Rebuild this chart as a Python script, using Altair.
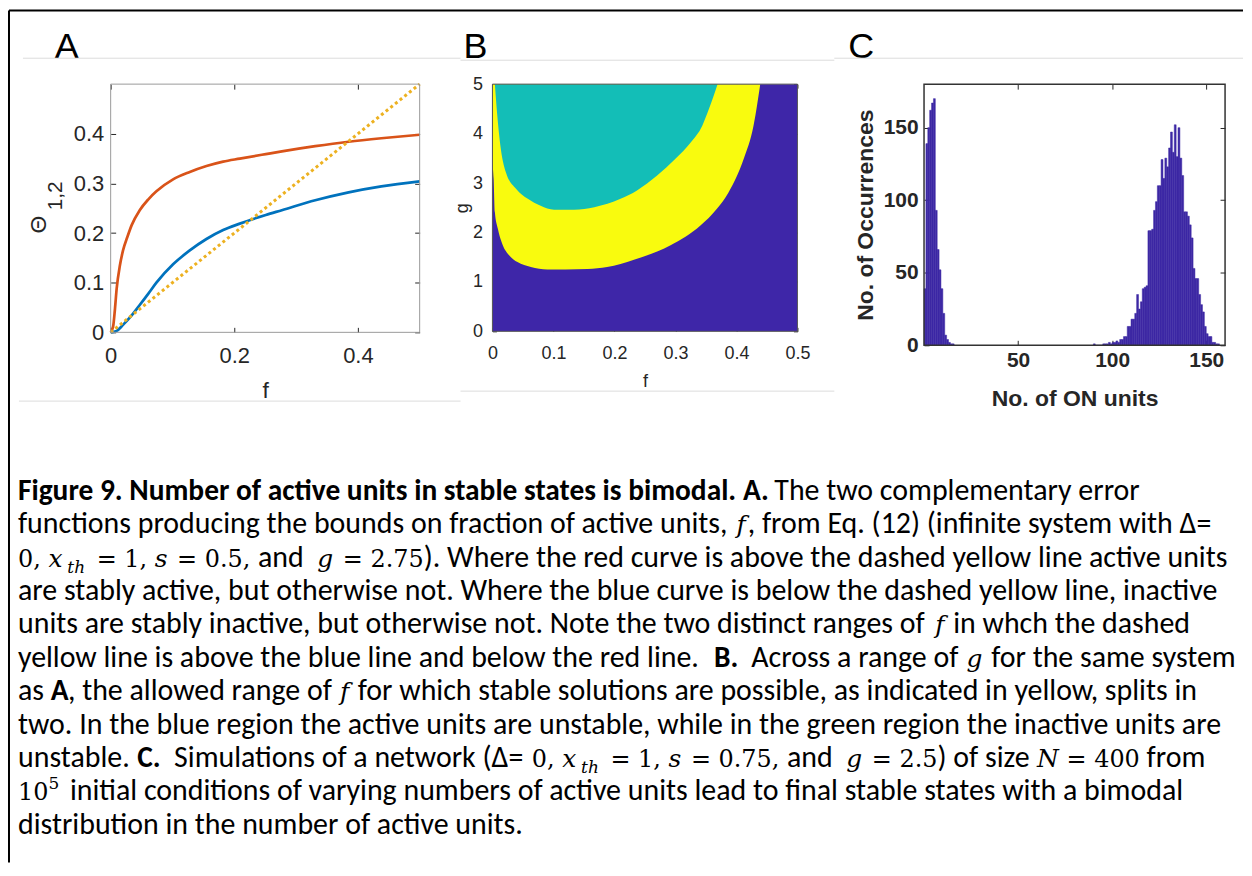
import altair as alt
import pandas as pd

# ---------------- Panel A data ----------------
red_f = [0.0, 0.004, 0.007, 0.0097, 0.015, 0.020, 0.027, 0.034, 0.047, 0.061, 0.074, 0.101,
         0.128, 0.155, 0.182, 0.209, 0.251, 0.277, 0.331, 0.385, 0.438, 0.5]
red_theta = [0.0, 0.012, 0.048, 0.088, 0.135, 0.165, 0.192, 0.216, 0.246, 0.268, 0.284, 0.308,
             0.323, 0.335, 0.344, 0.350, 0.359, 0.3645, 0.375, 0.384, 0.391, 0.398]
blue_f = [0.0, 0.0097, 0.020, 0.034, 0.047, 0.061, 0.074, 0.101, 0.128, 0.155, 0.182, 0.209,
          0.251, 0.277, 0.331, 0.385, 0.438, 0.5]
blue_theta = [0.0, 0.003, 0.015, 0.034, 0.055, 0.078, 0.100, 0.137, 0.165, 0.188, 0.206, 0.219,
              0.2365, 0.246, 0.266, 0.282, 0.294, 0.304]
diag_f = [0.0, 0.5]
diag_theta = [0.0, 0.5]
a_x_ticks = [0, 0.2, 0.4]
a_y_ticks = [0, 0.1, 0.2, 0.3, 0.4]

# ---------------- Panel B data ----------------
yellow_f = [0.0, 0.002, 0.004, 0.009, 0.017, 0.028, 0.041, 0.063, 0.090, 0.120, 0.156, 0.188,
            0.232, 0.292, 0.341, 0.368, 0.387, 0.412, 0.428, 0.439]
yellow_g = [3.40, 3.08, 2.41, 2.07, 1.74, 1.53, 1.40, 1.30, 1.25, 1.25, 1.26, 1.30,
            1.45, 1.74, 2.14, 2.48, 2.81, 3.49, 4.16, 5.00]
teal_f = [0.004, 0.0075, 0.013, 0.022, 0.039, 0.058, 0.079, 0.101, 0.134, 0.167, 0.210, 0.237,
          0.270, 0.300, 0.325, 0.344, 0.355, 0.369]
teal_g = [5.00, 4.43, 3.76, 3.22, 2.88, 2.68, 2.54, 2.46, 2.46, 2.51, 2.68, 2.85,
          3.15, 3.49, 3.82, 4.16, 4.50, 5.00]
b_f_range = [0.0, 0.5]
b_g_range = [0.0, 5.0]
b_x_ticks = [0, 0.1, 0.2, 0.3, 0.4, 0.5]
b_y_ticks = [0, 1, 2, 3, 4, 5]

# ---------------- Panel C data ----------------
low_bins = list(range(0, 16))
low_counts = [39, 139, 150, 162, 167, 170, 93, 66, 52, 39, 22, 7, 4, 2, 1, 1]
high_bins = list(range(90, 157))
high_counts = [1, 0, 0, 0, 0, 1, 1, 1, 2, 1,
               2, 2, 3, 2, 4, 4, 6, 6, 13, 13,
               18, 18, 22, 35, 25, 30, 39, 40, 41, 79,
               79, 80, 93, 99, 110, 110, 128, 115, 129, 123,
               136, 147, 133, 152, 130, 150, 129, 117, 92, 92,
               89, 83, 74, 53, 46, 46, 35, 28, 23, 13,
               8, 6, 6, 2, 2, 1, 1]
c_x_ticks = [50, 100, 150]
c_y_ticks = [0, 50, 100, 150]

# ---------------- caption text (segments: text, style) ----------------
caption_lines = [
    [("Figure 9. Number of active units in stable states is bimodal.  ", "b"), ("A.", "b"),
     (" The two complementary error", "r")],
    [("functions producing the bounds on fraction of active units, ", "r"), ("f", "m"),
     (", from Eq. (12) (infinite system with \u0394=", "r")],
    [("0, ", "mr"), ("x", "m"), ("th", "msub"), (" = 1, ", "mr"), ("s", "m"), (" = 0.5, ", "mr"),
     ("and  ", "r"), ("g", "m"), (" = 2.75", "mr"),
     ("). Where the red curve is above the dashed yellow line active units", "r")],
    [("are stably active, but otherwise not. Where the blue curve is below the dashed yellow line, inactive", "r")],
    [("units are stably inactive, but otherwise not. Note the two distinct ranges of ", "r"),
     ("f", "m"), (" in whch the dashed", "r")],
    [("yellow line is above the blue line and below the red line.  ", "r"), ("B.", "b"),
     ("  Across a range of ", "r"), ("g", "m"), (" for the same system", "r")],
    [("as ", "r"), ("A", "b"), (", the allowed range of ", "r"), ("f", "m"),
     (" for which stable solutions are possible, as indicated in yellow, splits in", "r")],
    [("two. In the blue region the active units are unstable, while in the green region the inactive units are", "r")],
    [("unstable. ", "r"), ("C.", "b"), ("  Simulations of a network (\u0394= ", "r"), ("0, ", "mr"),
     ("x", "m"), ("th", "msub"), (" = 1, ", "mr"), ("s", "m"), (" = 0.75, ", "mr"), ("and  ", "r"),
     ("g", "m"), (" = 2.5", "mr"), (") of size ", "r"), ("N", "m"), (" = 400", "mr"), (" from", "r")],
    [("10", "mr"), ("5", "msup"),
     (" initial conditions of varying numbers of active units lead to final stable states with a bimodal", "r")],
    [("distribution in the number of active units.", "r")],
]

# ---------------- layout helpers (page pixel coords -> panel A frame) ----------------
OX, OY = 112, 85
A_W, A_H = 310, 249
B_W, B_H = 306, 248
C_W, C_H = 302, 262
SANS = "Liberation Sans"
CAP = "Carlito, Lato, sans-serif"
MATH = "DejaVu Serif"
AXC = "#262626"
one = pd.DataFrame({"k": [0]})

# approximate advance widths used only to place caption segments one after another
CAL = {" ": 463, "!": 544, "(": 621, ")": 621, ",": 511, "-": 627, ".": 517, "=": 1038,
       "\u0394": 1180, ":": 548, ";": 548,
       "A": 1185, "B": 1114, "C": 1092, "D": 1260, "E": 1000, "F": 941, "G": 1292, "H": 1276,
       "I": 516, "J": 653, "K": 1064, "L": 861, "M": 1751, "N": 1322, "O": 1356, "P": 1058,
       "Q": 1378, "R": 1112, "S": 941, "T": 998, "U": 1314, "V": 1162, "W": 1822, "X": 1063,
       "Y": 998, "Z": 959,
       "a": 981, "b": 1076, "c": 866, "d": 1076, "e": 1019, "f": 625, "g": 964, "h": 1076,
       "i": 470, "j": 490, "k": 931, "l": 470, "m": 1636, "n": 1076, "o": 1080, "p": 1076,
       "q": 1076, "r": 714, "s": 801, "t": 686, "u": 1076, "v": 925, "w": 1464, "x": 887,
       "y": 927, "z": 809}
DJ = {" ": 0.318, ",": 0.318, ".": 0.318, "=": 0.838, "(": 0.39, ")": 0.39,
      "x": 0.68, "s": 0.513, "g": 0.640, "f": 0.37, "t": 0.402, "h": 0.644, "N": 0.80}

STY = {
    "r": dict(size=30, font=CAP),
    "b": dict(size=29.5, font=CAP, weight="bold"),
    "m": dict(size=25, font=MATH, style="italic"),
    "mr": dict(size=24, font=MATH),
    "msub": dict(size=17, font=MATH, style="italic", dy=6),
    "msup": dict(size=17, font=MATH, dy=-11),
}


def seg_width(s, st):
    size = STY[st]["size"]
    if st in ("r", "b"):
        return sum(CAL.get(c, 1000) for c in s) / 2048.0 * size * (1.01 if st == "b" else 1.0)
    extra = 0
    if s.strip():
        extra = {"msub": 4, "msup": 4, "m": 2}.get(st, 0)
    return sum(DJ.get(c, 0.636) for c in s) * size + extra


def deco_text(s, x, y, size, font, weight="normal", style="normal", angle=0,
              align="left", baseline="alphabetic", color="black"):
    kw = dict(align=align, baseline=baseline, font=font, fontSize=size,
              fontWeight=weight, fontStyle=style, color=color)
    if angle:
        kw["angle"] = angle
    return alt.Chart(one).mark_text(**kw).encode(
        x=alt.value(x - OX), y=alt.value(y - OY), text=alt.value(s))


def deco_rule(x1, y1, x2, y2, color, width):
    return alt.Chart(one).mark_rule(color=color, strokeWidth=width).encode(
        x=alt.value(x1 - OX), y=alt.value(y1 - OY),
        x2=alt.value(x2 - OX), y2=alt.value(y2 - OY))


def box(w, h, color, width):
    return alt.Chart(one).mark_rect(fillOpacity=0, stroke=color, strokeWidth=width).encode(
        x=alt.value(0), x2=alt.value(w), y=alt.value(0), y2=alt.value(h))


def axis(orient, values, tick, size=12, labels=True, pad=0, title=None, tsize=None,
         tpad=0, bold=False, expr=None, color=AXC):
    kw = dict(orient=orient, values=values, offset=-tick, tickSize=tick, domain=False,
              grid=False, tickColor=color, tickWidth=1)
    if labels:
        kw.update(labelFontSize=size, labelColor=color, labelPadding=pad, labelFont=SANS,
                  labelFontWeight="bold" if bold else "normal", labelFlush=False,
                  labelOverlap=False)
        if expr:
            kw["labelExpr"] = expr
    else:
        kw["labels"] = False
    if title:
        kw.update(title=title, titleFontSize=tsize, titlePadding=tpad, titleColor=color,
                  titleFont=SANS, titleFontWeight="bold" if bold else "normal")
    else:
        kw["title"] = None
    return alt.Axis(**kw)


FMT1 = "datum.value == 0 ? '0' : format(datum.value, '.1f')"

# ---------------- Panel A ----------------
sxA = alt.Scale(domain=[0, 0.5], nice=False, zero=False)
syA = alt.Scale(domain=[0, 0.5], nice=False, zero=False)
dfRed = pd.DataFrame({"f": red_f, "theta": red_theta})
dfBlue = pd.DataFrame({"f": blue_f, "theta": blue_theta})
dfDiag = pd.DataFrame({"f": diag_f, "theta": diag_theta})

red = alt.Chart(dfRed).mark_line(color="#D95319", strokeWidth=2.7, interpolate="monotone").encode(
    x=alt.X("f:Q", scale=sxA, axis=axis("bottom", a_x_ticks, 5, 22, pad=13, title="f",
                                         tsize=23, tpad=13, expr=FMT1)),
    y=alt.Y("theta:Q", scale=syA, axis=axis("left", a_y_ticks, 5, 22, pad=7, expr=FMT1)))
blue = alt.Chart(dfBlue).mark_line(color="#0072BD", strokeWidth=2.7, interpolate="monotone").encode(
    x=alt.X("f:Q", scale=sxA, axis=None), y=alt.Y("theta:Q", scale=syA, axis=None))
diag = alt.Chart(dfDiag).mark_line(color="#EDB120", strokeWidth=3, strokeDash=[3, 3]).encode(
    x=alt.X("f:Q", scale=sxA, axis=axis("top", a_x_ticks, 5, labels=False)),
    y=alt.Y("theta:Q", scale=syA, axis=axis("right", a_y_ticks, 5, labels=False)))

decos = [box(A_W, A_H, "#9a9a9a", 1)]
# y-axis title of panel A: Theta with subscript 1,2
decos.append(deco_text("\u0398", 47, 226, 23, SANS, angle=270, align="center", color=AXC))
decos.append(deco_text("1,2", 63, 197, 21, SANS, angle=270, align="center", color=AXC))
# panel letters
for letter, lx in [("A", 68), ("B", 478), ("C", 865)]:
    decos.append(deco_text(letter, lx, 59, 36, SANS, align="center"))
# faint image-boundary lines
LG = "#dcdcdc"
decos += [deco_rule(24, 59, 463, 59, LG, 1), deco_rule(463, 61, 838, 61, LG, 1),
          deco_rule(838, 59, 1248, 59, LG, 1), deco_rule(20, 403, 463, 403, LG, 1),
          deco_rule(463, 393, 838, 393, LG, 1)]
# outer frame (top and left)
decos += [deco_rule(10, 11, 1248, 11, "black", 2), deco_rule(10, 11, 10, 866, "black", 2)]

# caption: segments placed one after another along each line
for i, line in enumerate(caption_lines):
    base_y = 502 + 33.5 * i
    x = 19.0
    for raw, st in line:
        s = dict(STY[st])
        dy = s.pop("dy", 0)
        lead = len(raw) - len(raw.lstrip(" "))
        shown = raw.strip(" ")
        decos.append(deco_text(shown, x + seg_width(" " * lead, st), base_y + dy, s["size"],
                               s["font"], weight=s.get("weight", "normal"),
                               style=s.get("style", "normal")))
        x += seg_width(raw, st)

panelA = alt.layer(red, blue, diag, *decos).resolve_scale(
    x="independent", y="independent").properties(width=A_W, height=A_H)

# ---------------- Panel B ----------------
sxB = alt.Scale(domain=b_f_range, nice=False, zero=False)
syB = alt.Scale(domain=b_g_range, nice=False, zero=False)
dfBg = pd.DataFrame({"f0": [b_f_range[0]], "f1": [b_f_range[1]],
                     "g0": [b_g_range[0]], "g1": [b_g_range[1]]})
dfYel = pd.DataFrame({"f": yellow_f, "g": yellow_g})
dfTeal = pd.DataFrame({"f": teal_f, "g": teal_g})

bgB = alt.Chart(dfBg).mark_rect(color="#3E26A8").encode(
    x=alt.X("f0:Q", scale=sxB, axis=axis("bottom", b_x_ticks, 4, 18, pad=13, title="f",
                                          tsize=18, tpad=10, expr=FMT1)),
    x2="f1:Q",
    y=alt.Y("g0:Q", scale=syB, axis=axis("left", b_y_ticks, 4, 18, pad=10, title="g",
                                          tsize=18, tpad=1)),
    y2="g1:Q")
yel = alt.Chart(dfYel).mark_area(color="#F9FB0E", interpolate="monotone").encode(
    x=alt.X("f:Q", scale=sxB, axis=None), y=alt.Y("g:Q", scale=syB, axis=None),
    y2=alt.datum(b_g_range[1]))
teal = alt.Chart(dfTeal).mark_area(color="#13BEB7", interpolate="monotone").encode(
    x=alt.X("f:Q", scale=sxB, axis=axis("top", b_x_ticks, 4, labels=False)),
    y=alt.Y("g:Q", scale=syB, axis=axis("right", b_y_ticks, 4, labels=False)),
    y2=alt.datum(b_g_range[1]))
panelB = alt.layer(bgB, yel, teal, box(B_W, B_H, "#555555", 1)).resolve_scale(
    x="independent", y="independent").properties(width=B_W, height=B_H)

# ---------------- Panel C ----------------
HC = "#3D28A4"
bins = low_bins + high_bins
counts = low_counts + high_counts
dfHist = pd.DataFrame({"k0": bins, "k1": [b + 1 for b in bins], "count": counts})
sxC = alt.Scale(domain=[0, 160], nice=False, zero=False)
syC = alt.Scale(domain=[0, 180], nice=False, zero=False)
bars = alt.Chart(dfHist).mark_rect(color=HC, stroke=HC, strokeWidth=0.5).encode(
    x=alt.X("k0:Q", scale=sxC, axis=axis("bottom", c_x_ticks, 5, 21, pad=4, title="No. of ON units",
                                          tsize=23, tpad=17, bold=True)),
    x2="k1:Q",
    y=alt.Y("count:Q", scale=syC, axis=axis("left", c_y_ticks, 5, 21, pad=6,
                                             title="No. of Occurrences", tsize=23, tpad=6,
                                             bold=True)),
    y2=alt.datum(0))
ghost = alt.Chart(dfHist).mark_point(opacity=0).encode(
    x=alt.X("k0:Q", scale=sxC, axis=axis("top", c_x_ticks, 5, labels=False)),
    y=alt.Y("count:Q", scale=syC, axis=axis("right", c_y_ticks, 5, labels=False)))
panelC = alt.layer(bars, ghost, box(C_W, C_H, "#333333", 1.5)).resolve_scale(
    x="independent", y="independent").properties(width=C_W, height=C_H)


def spacer(w):
    return alt.Chart(one).mark_point(opacity=0).encode(
        x=alt.value(0), y=alt.value(0)).properties(
        width=w, height=1, view=alt.ViewBackground(stroke="transparent", strokeWidth=0))


chart = alt.hconcat(panelA, spacer(495 - 112 - A_W), panelB, spacer(928 - 495 - B_W), panelC,
                    spacing=0, bounds="flush").properties(padding=0).configure(
    font=SANS).configure_view(stroke="transparent", strokeWidth=0)

chart.save("out.html", embed_options={"renderer": "svg", "actions": False})
